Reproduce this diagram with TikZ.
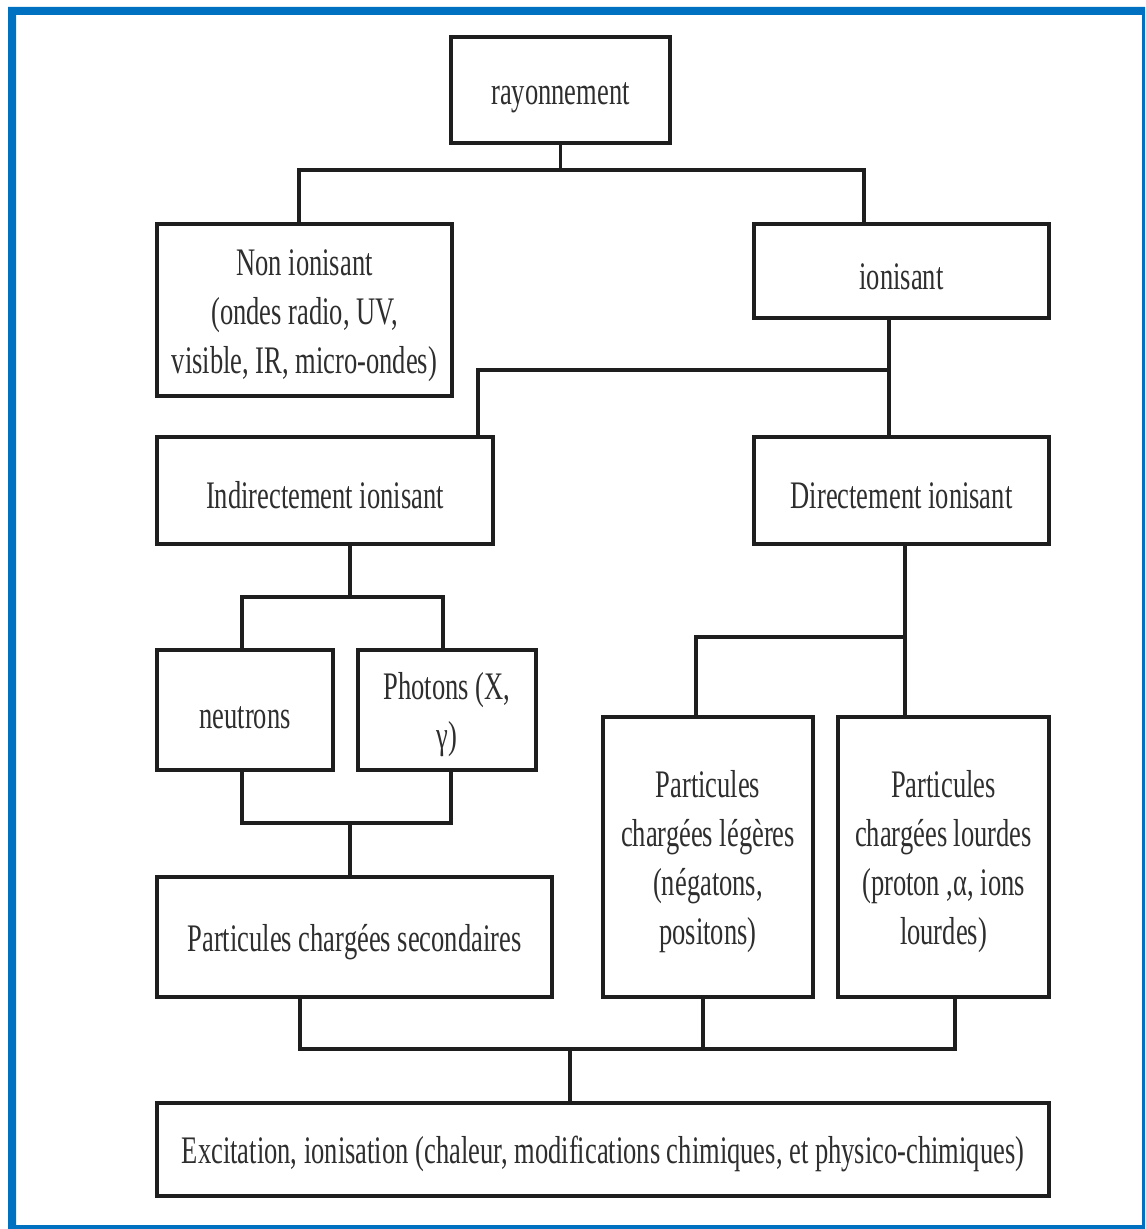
\documentclass[tikz,border=0pt]{standalone}
\usepackage{fontspec}
\newfontfamily\condserif[FakeStretch=0.68]{Liberation Serif}
\definecolor{framebl}{HTML}{0070C0}
\definecolor{inkline}{HTML}{1E1E1E}
\definecolor{inktext}{HTML}{2E2E2E}
\newcommand{\topstrut}{\rule{0pt}{18.5pt}}
\tikzset{
  box/.style={draw=inkline, line width=2pt, inner sep=0pt, align=center,
    text=inktext, font=\condserif\fontsize{19.5}{24.5}\selectfont},
  conn/.style={draw=inkline, line width=1.6pt}
}
\begin{document}
\begin{tikzpicture}[x=0.5pt,y=-0.5pt]
\useasboundingbox (0,0) rectangle (1145,1229);
\fill[white] (0,0) rectangle (1145,1229);
\fill[framebl, even odd rule] (8,7) rectangle (1145,1229) (16,15) rectangle (1142,1225);

% nodes
\node[box, minimum width=109.5pt, minimum height=53pt] (rayon) at (560.5,90) {\topstrut rayonnement};
\node[box, minimum width=147.5pt, minimum height=86pt] (nonion) at (304.5,310) {\topstrut Non ionisant\\(ondes radio, UV,\\visible, IR, micro-ondes)};
\node[box, minimum width=147.5pt, minimum height=47pt] (ion) at (901.5,271) {\topstrut ionisant};
\node[box, minimum width=168pt, minimum height=53.5pt] (indir) at (325,490.5) {\topstrut Indirectement ionisant};
\node[box, minimum width=147.5pt, minimum height=53.5pt] (dir) at (901.5,490.5) {\topstrut Directement ionisant};
\node[box, minimum width=88pt, minimum height=60pt] (neut) at (245,710) {\topstrut neutrons};
\node[box, minimum width=89pt, minimum height=60pt] (phot) at (447,710) {\topstrut Photons (X,\\γ)};
\node[box, minimum width=197.5pt, minimum height=60pt] (sec) at (354.5,937) {\topstrut Particules chargées secondaires};
\node[box, minimum width=105pt, minimum height=140pt] (leg) at (708,857) {\topstrut Particules\\chargées légères\\(négatons,\\positons)};
\node[box, minimum width=105.5pt, minimum height=140pt] (lour) at (943.5,857) {\topstrut Particules\\chargées lourdes\\(proton ,α, ions\\lourdes)};
\node[box, minimum width=446pt, minimum height=46.5pt] (exc) at (603,1149.5) {\topstrut Excitation, ionisation (chaleur, modifications chimiques, et physico-chimiques)};

% junction coordinates
\coordinate (r1) at (299,170);
\coordinate (r2) at (864,170);
\coordinate (i1) at (478,370);
\coordinate (i2) at (889,370);
\coordinate (n0) at (350,597);
\coordinate (n1) at (242,597);
\coordinate (n2) at (443,597);
\coordinate (m1) at (242,823);
\coordinate (m2) at (451,823);
\coordinate (m3) at (350,823);
\coordinate (d1) at (696,637);
\coordinate (d2) at (905,637);
\coordinate (b1) at (300,1049);
\coordinate (b2) at (703,1049);
\coordinate (b3) at (955,1049);
\coordinate (b4) at (570,1049);

% connectors
\draw[conn] (rayon.south) -- (rayon.south |- r1);
\draw[conn] (nonion.north -| r1) -- (r1) -- (r2) -- (ion.north -| r2);
\draw[conn] (ion.south -| i2) -- (dir.north -| i2);
\draw[conn] (i2) -- (i1) -- (indir.north -| i1);
\draw[conn] (indir.south -| n0) -- (n0);
\draw[conn] (neut.north -| n1) -- (n1) -- (n2) -- (phot.north -| n2);
\draw[conn] (neut.south -| m1) -- (m1) -- (m2) -- (phot.south -| m2);
\draw[conn] (m3) -- (sec.north -| m3);
\draw[conn] (dir.south -| d2) -- (lour.north -| d2);
\draw[conn] (d2) -- (d1) -- (leg.north -| d1);
\draw[conn] (sec.south -| b1) -- (b1) -- (b3) -- (lour.south -| b3);
\draw[conn] (leg.south -| b2) -- (b2);
\draw[conn] (b4) -- (exc.north -| b4);
\end{tikzpicture}
\end{document}
